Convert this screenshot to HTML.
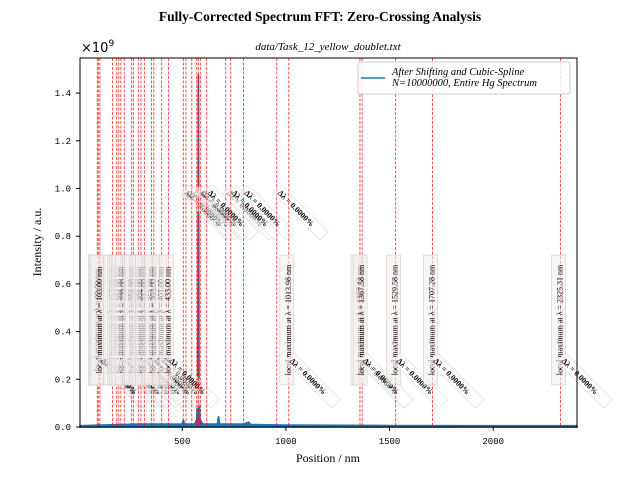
<!DOCTYPE html>
<html><head><meta charset="utf-8"><style>
html,body{margin:0;padding:0;background:#fff;}
svg{display:block;}
text{font-family:"Liberation Serif",serif;}
.mono{font-family:"Liberation Mono",monospace;}
</style></head><body>
<svg id="chart" width="640" height="480" viewBox="0 0 640 480" xmlns="http://www.w3.org/2000/svg">
<text x="320" y="21" text-anchor="middle" font-size="13.5" font-weight="bold">Fully-Corrected Spectrum FFT: Zero-Crossing Analysis</text>
<text x="328" y="50" text-anchor="middle" font-size="11" font-style="italic">data/Task_12_yellow_doublet.txt</text>
<text x="81" y="52" font-size="13" style="font-family:'DejaVu Sans',sans-serif">×10<tspan dy="-6" font-size="9">9</tspan></text>
<g id="plot"></g>
<rect x="80" y="58" width="497" height="369" fill="none" stroke="#000" stroke-width="1"/>
<g id="ticks"></g>
<text x="328" y="462" text-anchor="middle" font-size="12">Position / nm</text>
<text transform="translate(41,242) rotate(-90)" text-anchor="middle" font-size="12">Intensity / a.u.</text>
<g>
<rect x="358" y="62" width="212" height="32" fill="#fff" fill-opacity="0.85" stroke="#ccc" rx="2"/>
<line x1="361" y1="78" x2="385" y2="78" stroke="#1f77b4" stroke-width="1.5"/>
<text x="392" y="75" font-size="10.5" font-style="italic">After Shifting and Cubic-Spline</text>
<text x="392" y="86" font-size="10.5" font-style="italic">N=10000000, Entire Hg Spectrum</text>
</g>
</svg>
<script>
const peakNm=[90,95,103,163,184,194,204,220,256,264,288,301,317,352,363,401,433,505,518,546,570,579,589,618,710,734,795,956,1013.98,1357.12,1367.58,1529.58,1707.28,2325.31];
const specX=[7,100,200,300,400,500,505,510,560,570,575,578,581,585,600,650,670,675,680,700,800,820,830,1000,1500,2000,2404];
const specY=[0.005,0.008,0.01,0.012,0.012,0.012,0.03,0.012,0.012,0.03,0.15,1.48,0.15,0.03,0.012,0.012,0.012,0.045,0.012,0.012,0.012,0.02,0.01,0.008,0.006,0.005,0.005];
const xTicks=[500,1000,1500,2000];
const yTicks=[0,0.2,0.4,0.6,0.8,1.0,1.2,1.4];
const X0=78.6,KX=0.2073,Y0=427,KY=238.5;
const sx=v=>X0+v*KX, sy=v=>Y0-v*KY;
const NS="http://www.w3.org/2000/svg";
const plot=document.getElementById('plot'),tk=document.getElementById('ticks');
function mk(t,a,p){const e=document.createElementNS(NS,t);for(const k in a)e.setAttribute(k,a[k]);(p||plot).appendChild(e);return e;}
let d='';specX.forEach((v,i)=>{d+=(i?'L':'M')+sx(v).toFixed(1)+','+sy(specY[i]).toFixed(1);});
d+='L'+sx(2404)+','+Y0+'L'+sx(7)+','+Y0+'Z';
const ln=mk('path',{d:d,fill:'#1f77b4',stroke:'#1f77b4','stroke-width':1.8});


peakNm.forEach((p,i)=>{
 const x=sx(p);
 const l=mk('line',{x1:x,y1:58,x2:x,y2:427,stroke:'red','stroke-width':0.8,'stroke-dasharray':'3,1.5',opacity:0.85});
 
 
 const up=(p>500&&p<1000);
 if(!up){
 const g=mk('g',{transform:`translate(${x-1},320) rotate(-90)`});
 
 
 mk('rect',{x:-65,y:-8,width:130,height:14,fill:'#f4eeee','fill-opacity':0.6,stroke:'#ccc','stroke-width':0.6},g);
 const t=mk('text',{x:0,y:3,'text-anchor':'middle','font-size':8},g);
 t.textContent='local maximum at λ = '+p.toFixed(2)+' nm';
 }
 const a=mk('g',{transform:`translate(${x+2},${up?192:360}) rotate(45)`});
 
 
 mk('rect',{x:-3,y:-7,width:66,height:12,fill:'#fff','fill-opacity':0.5,stroke:'#ddd','stroke-width':0.6},a);
 const at=mk('text',{x:0,y:2,'font-size':8,'font-weight':'bold'},a);
 at.textContent='Δλ = 0.0000%';
});
xTicks.forEach(v=>{const x=sx(v);
 mk('line',{x1:x,y1:427,x2:x,y2:431,stroke:'#000'},tk);
 const t=mk('text',{x:x,y:444,'text-anchor':'middle','font-size':9,class:'mono'},tk);
 t.textContent=v;
 
 });
yTicks.forEach(v=>{const y=sy(v/1);
 mk('line',{x1:76,y1:y,x2:80,y2:y,stroke:'#000'},tk);
 const t=mk('text',{x:71,y:y+3,'text-anchor':'end','font-size':9,class:'mono'},tk);
 t.textContent=v.toFixed(1);
 
 });
</script>
</body></html>
